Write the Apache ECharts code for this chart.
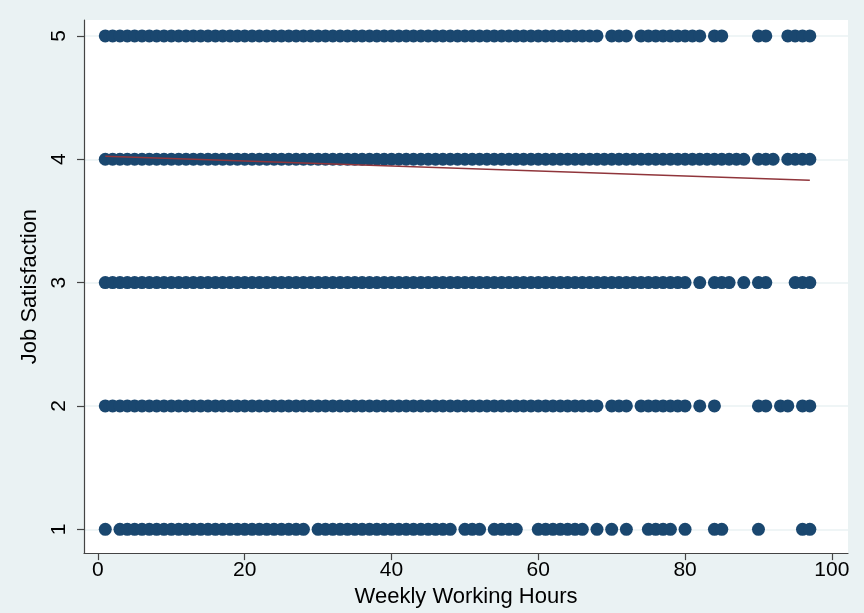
<!DOCTYPE html>
<html>
<head>
<meta charset="utf-8">
<script src="https://cdn.jsdelivr.net/npm/echarts@6/dist/echarts.min.js"></script>
<style>
html,body{margin:0;padding:0;background:#EAF2F3;}
#c{width:864px;height:613px;}
</style>
</head>
<body>
<div id="c"></div>
<script>
var hours1 = [1,3,4,5,6,7,8,9,10,11,12,13,14,15,16,17,18,19,20,21,22,23,24,25,26,27,28,30,31,32,33,34,35,36,37,38,39,40,41,42,43,44,45,46,47,48,50,51,52,54,55,56,57,60,61,62,63,64,65,66,68,70,72,75,76,77,78,80,84,85,90,96,97];
var hours2 = [1,2,3,4,5,6,7,8,9,10,11,12,13,14,15,16,17,18,19,20,21,22,23,24,25,26,27,28,29,30,31,32,33,34,35,36,37,38,39,40,41,42,43,44,45,46,47,48,49,50,51,52,53,54,55,56,57,58,59,60,61,62,63,64,65,66,67,68,70,71,72,74,75,76,77,78,79,80,82,84,90,91,93,94,96,97];
var hours3 = [1,2,3,4,5,6,7,8,9,10,11,12,13,14,15,16,17,18,19,20,21,22,23,24,25,26,27,28,29,30,31,32,33,34,35,36,37,38,39,40,41,42,43,44,45,46,47,48,49,50,51,52,53,54,55,56,57,58,59,60,61,62,63,64,65,66,67,68,69,70,71,72,73,74,75,76,77,78,79,80,82,84,85,86,88,90,91,95,96,97];
var hours4 = [1,2,3,4,5,6,7,8,9,10,11,12,13,14,15,16,17,18,19,20,21,22,23,24,25,26,27,28,29,30,31,32,33,34,35,36,37,38,39,40,41,42,43,44,45,46,47,48,49,50,51,52,53,54,55,56,57,58,59,60,61,62,63,64,65,66,67,68,69,70,71,72,73,74,75,76,77,78,79,80,81,82,83,84,85,86,87,88,90,91,92,94,95,96,97];
var hours5 = [1,2,3,4,5,6,7,8,9,10,11,12,13,14,15,16,17,18,19,20,21,22,23,24,25,26,27,28,29,30,31,32,33,34,35,36,37,38,39,40,41,42,43,44,45,46,47,48,49,50,51,52,53,54,55,56,57,58,59,60,61,62,63,64,65,66,67,68,70,71,72,74,75,76,77,78,79,80,81,82,84,85,90,91,94,95,96,97];
var satisfactionLevels = [1,2,3,4,5];
var fitX = [1, 97];
var fitY = [4.025, 3.83];
var xTicks = [0,20,40,60,80,100];
var yTicks = [1,2,3,4,5];

var rows = [hours1, hours2, hours3, hours4, hours5];
var scatterData = [];
rows.forEach(function(r, i){
  r.forEach(function(h){ scatterData.push([h, satisfactionLevels[i]]); });
});
var fitData = fitX.map(function(x, i){ return [x, fitY[i]]; });

var chart = echarts.init(document.getElementById('c'), null, {renderer:'canvas'});
var font = 'Liberation Sans, Arial, sans-serif';
chart.setOption({
  backgroundColor: '#EAF2F3',
  animation: false,
  grid: {left: 84, right: 16, top: 20, bottom: 56, show: true, backgroundColor: '#ffffff', borderWidth: 0},
  xAxis: {
    type: 'value', min: -1.9, max: 102.2,
    interval: 20,
    name: 'Weekly Working Hours', nameLocation: 'middle', nameGap: 28,
    nameTextStyle: {fontFamily: font, fontSize: 22, color: '#000'},
    axisLine: {show: true, onZero: false, lineStyle: {color: '#444', width: 1.2}},
    axisTick: {show: true, length: 7, lineStyle: {color: '#444', width: 1.2},
      customValues: xTicks},
    axisLabel: {fontFamily: font, fontSize: 21, color: '#000', margin: 7,
      customValues: xTicks},
    splitLine: {show: false}
  },
  yAxis: {
    type: 'value', min: 0.807, max: 5.129,
    name: 'Job Satisfaction', nameLocation: 'middle', nameGap: 37,
    nameTextStyle: {fontFamily: font, fontSize: 22, color: '#000'},
    axisLine: {show: true, onZero: false, lineStyle: {color: '#444', width: 1.2}},
    axisTick: {show: true, length: 7, lineStyle: {color: '#444', width: 1.2},
      customValues: yTicks},
    axisLabel: {fontFamily: font, fontSize: 21, color: '#000', rotate: 90, margin: 14,
      customValues: yTicks},
    splitLine: {show: true, lineStyle: {color: '#EAF2F3', width: 1.5},
      customValues: yTicks}
  },
  series: [
    {
      type: 'scatter', data: scatterData, symbol: 'circle', symbolSize: 13,
      itemStyle: {color: '#1A476F', opacity: 1}, z: 2
    },
    {
      type: 'line', data: fitData, symbol: 'none',
      lineStyle: {color: '#90353B', width: 1.5}, z: 3
    }
  ]
});
</script>
</body>
</html>
